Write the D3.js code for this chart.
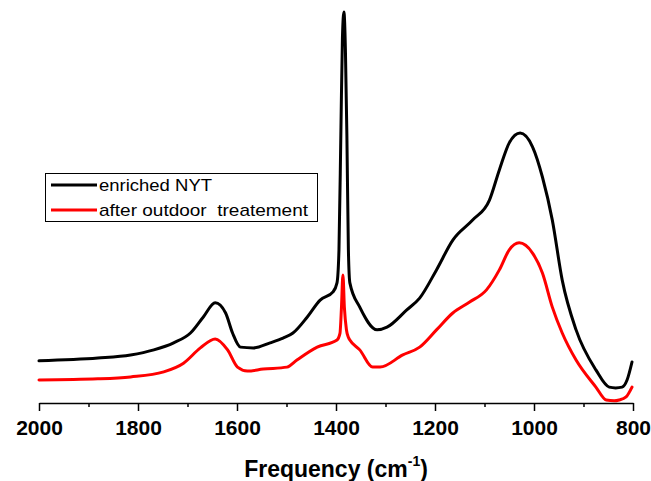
<!DOCTYPE html>
<html>
<head>
<meta charset="utf-8">
<script src="https://cdn.jsdelivr.net/npm/d3@7"></script>
<style>
  html, body { margin: 0; padding: 0; background: #fff; }
  svg { display: block; }
</style>
</head>
<body>
<svg id="chart" width="651" height="481"></svg>
<script>
// ---- data ----
const seriesNames = ["enriched NYT", "after outdoor  treatement"];
const seriesColors = ["#000000", "#ff0000"];

const blackFreq = [2000, 1881, 1815, 1768, 1728, 1694, 1668, 1644, 1623, 1609, 1593, 1567, 1533, 1507, 1487, 1458, 1432, 1406, 1398, 1394, 1390, 1387, 1384, 1381, 1378, 1375, 1372, 1352, 1317, 1297, 1257, 1231, 1197, 1164, 1124, 1090, 1070, 1050, 1028, 1003, 983, 963, 943, 915, 875, 848, 835, 822, 812, 802];
const blackAbs  = [0.105, 0.112, 0.120, 0.133, 0.151, 0.176, 0.217, 0.253, 0.227, 0.176, 0.140, 0.138, 0.151, 0.163, 0.176, 0.217, 0.260, 0.281, 0.304, 0.388, 0.700, 0.930, 0.995, 0.900, 0.680, 0.390, 0.304, 0.242, 0.184, 0.191, 0.235, 0.265, 0.337, 0.413, 0.464, 0.515, 0.592, 0.661, 0.686, 0.651, 0.574, 0.464, 0.311, 0.184, 0.082, 0.038, 0.036, 0.038, 0.056, 0.102];

const redFreq = [2000, 1881, 1815, 1748, 1708, 1674, 1644, 1619, 1599, 1579, 1547, 1499, 1479, 1438, 1398, 1392, 1389, 1386, 1383, 1379, 1375, 1372, 1352, 1326, 1311, 1265, 1231, 1197, 1164, 1130, 1096, 1070, 1050, 1030, 1003, 983, 963, 943, 915, 875, 854, 838, 828, 814, 802];
const redAbs  = [0.056, 0.059, 0.064, 0.077, 0.099, 0.138, 0.161, 0.133, 0.089, 0.079, 0.084, 0.089, 0.107, 0.140, 0.158, 0.175, 0.240, 0.324, 0.240, 0.185, 0.165, 0.158, 0.133, 0.089, 0.089, 0.120, 0.140, 0.184, 0.227, 0.255, 0.286, 0.337, 0.388, 0.406, 0.380, 0.329, 0.242, 0.176, 0.107, 0.038, 0.005, 0.003, 0.005, 0.013, 0.038];

const majorTicks = [2000, 1800, 1600, 1400, 1200, 1000, 800];
const minorTicks = [1900, 1700, 1500, 1300, 1100, 900];
const xTitle = "Frequency (cm";
const xTitleSup = "-1";
const xTitleEnd = ")";

// ---- chart ----
const svg = d3.select("#chart");
const fontFamily = "'Liberation Sans', Arial, Helvetica, sans-serif";

const x = d3.scaleLinear().domain([2000, 800]).range([39, 633]);
const y = d3.scaleLinear().domain([0, 1]).range([402, 10]);
const axisY = 403;

const line = d3.line()
  .x(d => x(d[0]))
  .y(d => y(d[1]))
  .curve(d3.curveMonotoneX);

const series = [
  d3.zip(blackFreq, blackAbs),
  d3.zip(redFreq, redAbs)
];

// draw red first, black on top
[1, 0].forEach(i => {
  svg.append("path")
    .datum(series[i])
    .attr("fill", "none")
    .attr("stroke", seriesColors[i])
    .attr("stroke-width", 3)
    .attr("stroke-linejoin", "round")
    .attr("stroke-linecap", "round")
    .attr("d", line);
});

// minor ticks
const minorAxis = d3.axisBottom(x).tickValues(minorTicks).tickSize(4).tickSizeOuter(0).tickFormat("");
const gMinor = svg.append("g").attr("transform", `translate(0,${axisY})`).call(minorAxis);
gMinor.select(".domain").remove();
gMinor.selectAll("line").attr("stroke", "#000").attr("stroke-width", 1.5);

// major axis
const majorAxis = d3.axisBottom(x).tickValues(majorTicks).tickSize(8).tickSizeOuter(0).tickPadding(9).tickFormat(d3.format("d"));
const gAxis = svg.append("g").attr("transform", `translate(0,${axisY})`).call(majorAxis);
gAxis.select(".domain").attr("stroke", "#000").attr("stroke-width", 1.5);
gAxis.selectAll(".tick line").attr("stroke", "#000").attr("stroke-width", 1.5);
gAxis.selectAll(".tick text")
  .attr("fill", "#000")
  .style("font-family", fontFamily)
  .style("font-size", "21px")
  .style("font-weight", "bold");

// x title
const title = svg.append("text")
  .attr("x", (x.range()[0] + x.range()[1]) / 2)
  .attr("y", 477)
  .attr("text-anchor", "middle")
  .style("font-family", fontFamily)
  .style("font-size", "23px")
  .style("font-weight", "bold")
  .attr("fill", "#000");
title.append("tspan").text(xTitle);
title.append("tspan").attr("dy", -11).style("font-size", "14px").text(xTitleSup);
title.append("tspan").attr("dy", 11).text(xTitleEnd);

// legend
const legend = svg.append("g");
legend.append("rect")
  .attr("x", 45.5).attr("y", 173.5)
  .attr("width", 272).attr("height", 48)
  .attr("fill", "#fff")
  .attr("stroke", "#000")
  .attr("stroke-width", 1);
const legendRows = [185, 210];
const legendWidths = [113, 209];
seriesNames.forEach((name, i) => {
  legend.append("line")
    .attr("x1", 51).attr("x2", 97)
    .attr("y1", legendRows[i]).attr("y2", legendRows[i])
    .attr("stroke", seriesColors[i])
    .attr("stroke-width", 3);
  legend.append("text")
    .attr("x", 99)
    .attr("y", legendRows[i] + 6)
    .attr("xml:space", "preserve")
    .style("white-space", "pre")
    .style("font-family", fontFamily)
    .style("font-size", "17px")
    .attr("textLength", legendWidths[i])
    .attr("lengthAdjust", "spacingAndGlyphs")
    .attr("fill", "#000")
    .text(name);
});
</script>
</body>
</html>
